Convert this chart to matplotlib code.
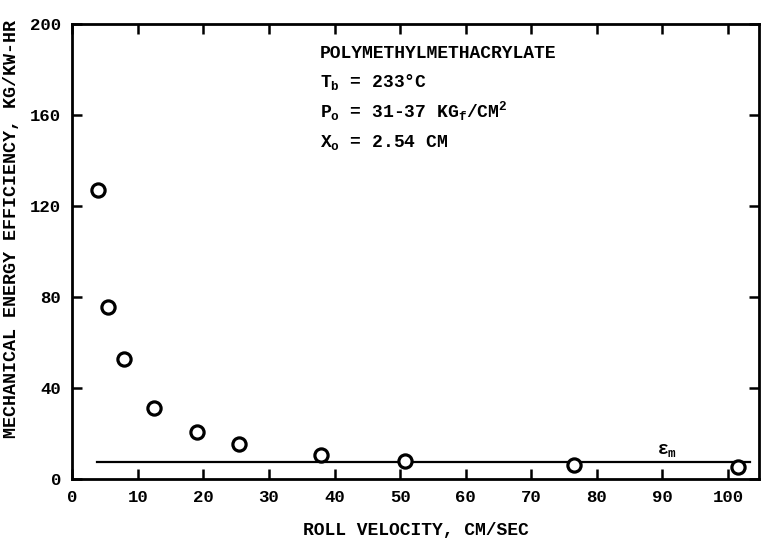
import matplotlib
matplotlib.use("Agg")
import matplotlib.pyplot as plt

# data
roll_velocity = [3.9, 5.4, 7.9, 12.5, 19.0, 25.4, 38.0, 50.8, 76.5, 101.6]
efficiency = [127.0, 75.4, 52.8, 31.0, 20.7, 15.5, 10.5, 8.0, 6.3, 5.4]
eps_m = 7.6
eps_m_span = [3.7, 103.4]

x_ticks = [0, 10, 20, 30, 40, 50, 60, 70, 80, 90, 100]
y_ticks = [0, 40, 80, 120, 160, 200]

plt.rcParams['font.family'] = ['Liberation Mono', 'DejaVu Sans Mono']
plt.rcParams['font.weight'] = 'bold'
plt.rcParams['axes.labelweight'] = 'bold'
plt.rcParams['mathtext.fontset'] = 'custom'
plt.rcParams['mathtext.rm'] = 'Liberation Mono:bold'
plt.rcParams['mathtext.it'] = 'Liberation Mono:bold'
plt.rcParams['mathtext.bf'] = 'Liberation Mono:bold'

fig = plt.figure(figsize=(7.61, 5.43), dpi=100)
ax = fig.add_axes([0.095, 0.118, 0.902, 0.838])

ax.plot(eps_m_span, [eps_m, eps_m], color='black', lw=1.6)
ax.plot(roll_velocity, efficiency, 'o', ms=9.5, mfc='white', mec='black', mew=2.3)

ax.set_xlim(0, 104.7)
ax.set_ylim(0, 200)
ax.set_xticks(x_ticks)
ax.set_yticks(y_ticks)
ax.tick_params(direction='in', length=7, width=1.8, top=True, right=True,
               labelsize=12.5, pad=8)
for s in ax.spines.values():
    s.set_linewidth(2.0)

ax.set_xlabel('ROLL VELOCITY, CM/SEC', fontsize=13, labelpad=12)
ax.set_ylabel('MECHANICAL ENERGY EFFICIENCY, KG/KW-HR', fontsize=13.2)
ax.yaxis.set_label_coords(-0.076, 0.55)

fs = 13
ax.text(37.8, 185, 'POLYMETHYLMETHACRYLATE', fontsize=fs)
ax.text(37.8, 172.3, r'T$_\mathrm{b}$ = 233°C', fontsize=fs)
ax.text(37.8, 158.7, r'P$_\mathrm{o}$ = 31-37 KG$_\mathrm{f}$/CM$^\mathrm{2}$', fontsize=fs)
ax.text(37.8, 146, r'X$_\mathrm{o}$ = 2.54 CM', fontsize=fs)
ax.text(90.7, 12.7, r'ε$_\mathrm{m}$', fontsize=fs, ha='center', va='center')

fig.savefig('out.png', dpi=100)
